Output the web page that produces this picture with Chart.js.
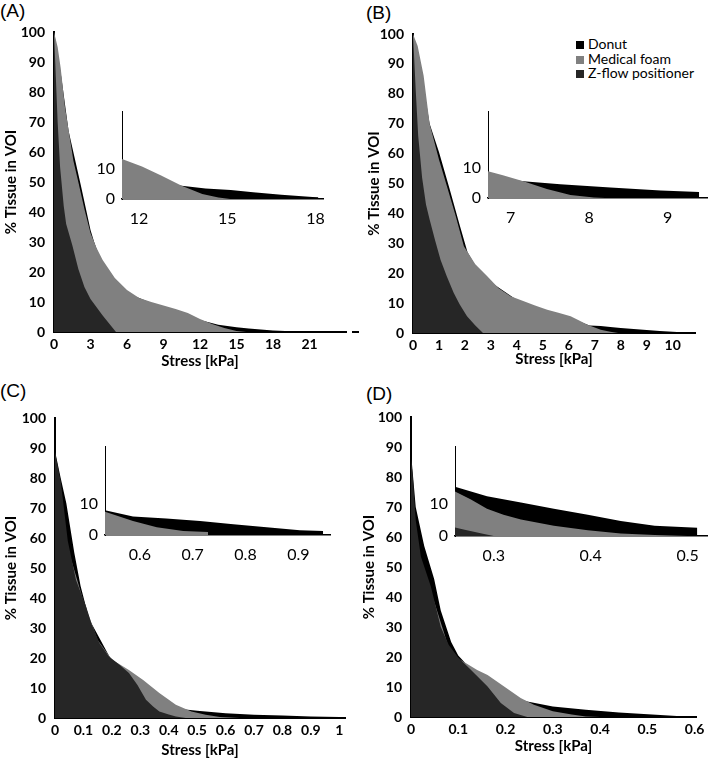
<!DOCTYPE html>
<html>
<head>
<meta charset="utf-8">
<script src="https://cdn.jsdelivr.net/npm/chart.js@4.4.0/dist/chart.umd.min.js"></script>
<style>
  body { margin: 0; background: #fff; }
  #fig { position: relative; width: 709px; height: 762px; overflow: hidden; background: #fff; }
  #fig canvas { position: absolute; }
  .panel { position: absolute; font-family: 'Liberation Sans', Arial, sans-serif; font-size: 19px; color: #000; line-height: 1; }
  .legend { position: absolute; left: 576px; top: 37px; font-family: Lato, sans-serif; font-size: 14px; color: #000; }
  .legend div { height: 14.5px; line-height: 14.5px; white-space: nowrap; }
  .legend span { display: inline-block; width: 8px; height: 8px; margin-right: 4px; vertical-align: 0px; }
  .dash { position: absolute; left: 352px; top: 331px; width: 7px; height: 2px; background: #000; }
</style>
</head>
<body>
<div id="fig">
  <div class="panel" style="left:0px;top:1px;">(A)</div>
  <div class="panel" style="left:366px;top:3px;">(B)</div>
  <div class="panel" style="left:0px;top:381px;">(C)</div>
  <div class="panel" style="left:366px;top:384px;">(D)</div>
  <div class="dash"></div>
  <div class="legend" id="legendB"></div>
</div>
<script>
// Series
const seriesNames = ['Donut', 'Medical foam', 'Z-flow positioner'];
const seriesColors = ['#000000', '#808080', '#262626'];

// Tick labels
const ticksA = [0, 3, 6, 9, 12, 15, 18, 21];
const ticksB = [0, 1, 2, 3, 4, 5, 6, 7, 8, 9, 10];
const ticksC = [0, 0.1, 0.2, 0.3, 0.4, 0.5, 0.6, 0.7, 0.8, 0.9, 1];
const ticksD = [0, 0.1, 0.2, 0.3, 0.4, 0.5, 0.6];
const ticksPct = [0, 10, 20, 30, 40, 50, 60, 70, 80, 90, 100];
const ticksInsetA = [12, 15, 18];
const ticksInsetB = [7, 8, 9];
const ticksInsetC = [0.6, 0.7, 0.8, 0.9];
const ticksInsetD = [0.3, 0.4, 0.5];
const ticksInsetPct = [0, 10];

// (A) main
const stressA_donut = [0, 0.6, 1.2, 2.2, 3, 3.3, 4, 6, 9, 12, 13.5, 15, 16, 17, 18, 19, 20, 21, 22, 24];
const pctA_donut = [100, 85, 67, 49, 34, 30, 22, 13, 8, 4, 2.4, 1.6, 1.2, 0.8, 0.5, 0.3, 0.15, 0.1, 0.05, 0];
const stressA_foam = [0, 0.3, 0.55, 0.9, 1.25, 1.6, 2, 2.5, 3, 3.5, 4, 5, 6, 7, 8, 9, 10, 11, 12, 13, 14, 15, 15.8];
const pctA_foam = [100, 95, 88, 75, 66, 57, 50, 41, 33, 28, 24, 18, 14, 11.3, 10, 8.8, 7.7, 6.3, 4.3, 2.7, 1.3, 0.3, 0];
const stressA_zflow = [0, 0.15, 0.3, 0.5, 0.8, 1, 1.5, 2, 2.5, 3, 4, 5.1];
const pctA_zflow = [100, 85, 70, 55, 42, 36, 29, 21, 15, 11, 5.5, 0];

// (A) inset
const stressIA_donut = [11.42, 13.45, 14.26, 15.12, 15.88, 16.84, 17.9, 18.1];
const pctIA_donut = [9, 4.4, 3.5, 3.0, 2.2, 1.4, 0.7, 0.6];
const stressIA_foam = [11.42, 12.1, 12.75, 13.45, 14.15, 14.7, 15.1];
const pctIA_foam = [13.3, 10.8, 7.8, 4.4, 1.7, 0.5, 0];

// (B) main
const stressB_donut = [0, 0.3, 0.64, 1.0, 1.4, 1.8, 2.1, 2.5, 3, 4, 5, 6, 6.8, 7.23, 7.6, 8, 8.5, 9, 9.5, 10, 10.5, 10.8];
const pctB_donut = [100, 88, 70, 60.5, 48.5, 36, 27, 21, 17, 11, 7.3, 5.2, 2.5, 2.3, 2.0, 1.7, 1.3, 1.0, 0.7, 0.4, 0.2, 0.05];
const stressB_foam = [0, 0.18, 0.41, 0.64, 1.0, 1.31, 1.65, 1.96, 2.4, 2.86, 3.3, 3.76, 4.27, 4.7, 5.17, 5.6, 6.07, 6.4, 6.72, 7.23, 7.6, 7.9];
const pctB_foam = [100, 96, 86, 70, 58, 49, 39, 29, 23, 19, 15, 12.3, 10.6, 9.2, 7.8, 6.8, 5.6, 4.2, 2.8, 1.1, 0.4, 0];
const stressB_zflow = [0, 0.1, 0.2, 0.35, 0.5, 0.64, 0.85, 1.06, 1.3, 1.57, 1.8, 2.08, 2.4, 2.7];
const pctB_zflow = [100, 82, 66, 52, 43, 38, 31, 24.5, 19, 13.4, 9.5, 5.6, 2.5, 0];

// (B) inset
const stressIB_donut = [6.71, 7.16, 7.63, 8.27, 8.91, 9.4];
const pctIB_donut = [7, 5.5, 4.5, 3.5, 2.5, 2.0];
const stressIB_foam = [6.71, 6.9, 7.16, 7.46, 7.76, 8.06, 8.2];
const pctIB_foam = [8.8, 7.5, 5.5, 3.0, 1.0, 0.2, 0];

// (C) main
const stressC_donut = [0, 0.02, 0.04, 0.068, 0.09, 0.12, 0.2, 0.3, 0.4, 0.45, 0.5, 0.6, 0.7, 0.8, 0.9, 1.0, 1.017];
const pctC_donut = [89, 80, 71.5, 55, 44, 33, 19, 9, 3.2, 2.9, 2.4, 1.6, 1.1, 0.8, 0.5, 0.3, 0.2];
const stressC_foam = [0, 0.05, 0.1, 0.15, 0.2, 0.26, 0.31, 0.367, 0.425, 0.48, 0.53, 0.58, 0.65];
const pctC_foam = [75, 55, 39, 26, 19.5, 16, 12.7, 8.3, 4.4, 2.2, 1.1, 0.3, 0];
const stressC_zflow = [0, 0.02, 0.045, 0.074, 0.11, 0.13, 0.156, 0.19, 0.23, 0.26, 0.29, 0.32, 0.345, 0.367, 0.4, 0.425, 0.46];
const pctC_zflow = [88.7, 79, 59, 46, 37, 31, 25, 20.5, 17.5, 15, 11, 6.1, 3.8, 2.2, 1.2, 0.5, 0];

// (C) inset
const stressIC_donut = [0.534, 0.587, 0.65, 0.714, 0.777, 0.84, 0.903, 0.947];
const pctIC_donut = [8, 6, 5.3, 4.5, 3.5, 2.5, 1.5, 1.3];
const stressIC_foam = [0.534, 0.587, 0.632, 0.682, 0.729];
const pctIC_foam = [7.5, 4.5, 2.5, 1.3, 1.0];

// (D) main
const stressD_donut = [0, 0.01, 0.028, 0.049, 0.063, 0.085, 0.1, 0.15, 0.2, 0.246, 0.3, 0.37, 0.44, 0.51, 0.58, 0.6];
const pctD_donut = [88, 70, 57, 46, 35.5, 25, 20.5, 12, 7.5, 5.2, 3.5, 2.4, 1.5, 0.8, 0.2, 0.1];
const stressD_foam = [0, 0.02, 0.05, 0.08, 0.1, 0.14, 0.162, 0.197, 0.232, 0.26, 0.3, 0.34, 0.37, 0.4];
const pctD_foam = [70, 52, 38, 23, 19.5, 15.7, 14, 10.2, 6.3, 4.1, 1.9, 0.8, 0.2, 0];
const stressD_zflow = [0, 0.0035, 0.01, 0.021, 0.042, 0.063, 0.08, 0.099, 0.127, 0.162, 0.19, 0.218, 0.246];
const pctD_zflow = [86, 81, 65.6, 53.4, 43.5, 30, 24, 20, 15.7, 10.2, 4.7, 1.3, 0];

// (D) inset
const stressID_donut = [0.26, 0.293, 0.328, 0.362, 0.397, 0.431, 0.466, 0.51];
const pctID_donut = [15.5, 12.5, 10.6, 8.6, 6.7, 4.7, 3.2, 2.6];
const stressID_foam = [0.26, 0.276, 0.293, 0.31, 0.328, 0.362, 0.397, 0.431, 0.466, 0.5];
const pctID_foam = [14, 11.6, 8.6, 6.7, 5.2, 3.2, 1.8, 0.8, 0.3, 0];
const stressID_zflow = [0.26, 0.27, 0.29, 0.3];
const pctID_zflow = [2.7, 2, 0.6, 0];

const fig = document.getElementById('fig');

const pts = (xs, ys) => xs.map((x, i) => ({ x, y: ys[i] }));

// series list is [donut, foam, zflow]; null means not drawn.
// Z-flow is painted on top, donut at the back.
const buildSets = (list) => list
  .map((s, i) => s && {
    label: seriesNames[i],
    data: pts(s[0], s[1]),
    backgroundColor: seriesColors[i],
    borderWidth: 0,
    pointRadius: 0,
    tension: 0,
    fill: 'origin',
    order: 3 - i
  })
  .filter(Boolean);

const makeCanvas = (box) => {
  const c = document.createElement('canvas');
  c.width = box.w;
  c.height = box.h;
  c.style.left = box.x + 'px';
  c.style.top = box.y + 'px';
  c.style.width = box.w + 'px';
  c.style.height = box.h + 'px';
  fig.appendChild(c);
  return c;
};

/**
 * Draw one area chart so its plot area lands on `area` (page pixels)
 */
const drawChart = (box, area, xRange, yMax, xTicks, yTicks, sets, inset) => {
  const canvas = makeCanvas(box);
  const tickFont = inset
    ? { family: 'Lato', size: 16 }
    : { family: 'Lato', size: 14, weight: 'bold' };
  const titleFont = { family: 'Lato', size: 15, weight: 'bold' };

  new Chart(canvas, {
    type: 'line',
    data: { datasets: sets },
    options: {
      responsive: false,
      animation: false,
      events: [],
      layout: {
        padding: { top: area.top - box.y, right: box.x + box.w - area.right, left: 0, bottom: 0 }
      },
      plugins: {
        legend: { display: false },
        tooltip: { enabled: false }
      },
      scales: {
        x: {
          type: 'linear',
          min: xRange[0],
          max: xRange[1],
          afterBuildTicks: s => { s.ticks = xTicks.map(v => ({ value: v })); },
          afterFit: s => { s.height = box.y + box.h - area.bottom; },
          grid: { display: true, drawOnChartArea: false, drawTicks: false },
          border: { color: '#000', width: inset ? 1.5 : 2 },
          ticks: {
            color: '#000',
            font: tickFont,
            padding: inset ? 10 : 4,
            maxRotation: 0,
            autoSkip: false,
            callback: v => String(v)
          },
          title: inset ? { display: false } : {
            display: true,
            text: 'Stress [kPa]',
            color: '#000',
            font: titleFont,
            padding: { top: 0, bottom: 2 }
          }
        },
        y: {
          type: 'linear',
          min: 0,
          max: yMax,
          afterBuildTicks: s => { s.ticks = yTicks.map(v => ({ value: v })); },
          afterFit: s => { s.width = area.left - box.x; },
          grid: { display: true, drawOnChartArea: false, drawTicks: false },
          border: { color: '#000', width: inset ? 1 : 2 },
          ticks: {
            color: '#000',
            font: tickFont,
            padding: inset ? 7 : 9,
            callback: v => String(v)
          },
          title: inset ? { display: false } : {
            display: true,
            text: '% Tissue in VOI',
            color: '#000',
            font: titleFont,
            padding: { top: 2, bottom: 0 }
          }
        }
      }
    }
  });
};

// Main panels
drawChart({ x: 0, y: 10, w: 354, h: 362 }, { left: 54, top: 32, right: 346, bottom: 332 },
  [0, 24], 100, ticksA, ticksPct,
  buildSets([[stressA_donut, pctA_donut], [stressA_foam, pctA_foam], [stressA_zflow, pctA_zflow]]), false);

drawChart({ x: 363, y: 10, w: 346, h: 360 }, { left: 413, top: 34, right: 695, bottom: 333 },
  [0, 10.86], 100, ticksB, ticksPct,
  buildSets([[stressB_donut, pctB_donut], [stressB_foam, pctB_foam], [stressB_zflow, pctB_zflow]]), false);

drawChart({ x: 0, y: 395, w: 354, h: 366 }, { left: 55, top: 418, right: 345, bottom: 718 },
  [0, 1.02], 100, ticksC, ticksPct,
  buildSets([[stressC_donut, pctC_donut], [stressC_foam, pctC_foam], [stressC_zflow, pctC_zflow]]), false);

drawChart({ x: 358, y: 395, w: 351, h: 362 }, { left: 411, top: 417, right: 696, bottom: 717 },
  [0, 0.603], 100, ticksD, ticksPct,
  buildSets([[stressD_donut, pctD_donut], [stressD_foam, pctD_foam], [stressD_zflow, pctD_zflow]]), false);

// Insets
drawChart({ x: 90, y: 95, w: 245, h: 135 }, { left: 122, top: 103, right: 328, bottom: 199 },
  [11.42, 18.26], 29, ticksInsetA, ticksInsetPct,
  buildSets([[stressIA_donut, pctIA_donut], [stressIA_foam, pctIA_foam], null]), true);

drawChart({ x: 455, y: 95, w: 254, h: 140 }, { left: 488, top: 103, right: 707, bottom: 198 },
  [6.71, 9.5], 28.5, ticksInsetB, ticksInsetPct,
  buildSets([[stressIB_donut, pctIB_donut], [stressIB_foam, pctIB_foam], null]), true);

drawChart({ x: 70, y: 430, w: 270, h: 140 }, { left: 105, top: 440, right: 330, bottom: 535 },
  [0.534, 0.96], 28.5, ticksInsetC, ticksInsetPct,
  buildSets([[stressIC_donut, pctIC_donut], [stressIC_foam, pctIC_foam], null]), true);

drawChart({ x: 420, y: 430, w: 289, h: 140 }, { left: 455, top: 440, right: 707, bottom: 536 },
  [0.26, 0.52], 28.2, ticksInsetD, ticksInsetPct,
  buildSets([[stressID_donut, pctID_donut], [stressID_foam, pctID_foam], [stressID_zflow, pctID_zflow]]), true);

// Legend for panel B
const legendB = document.getElementById('legendB');
seriesNames.forEach((name, i) => {
  const row = document.createElement('div');
  row.innerHTML = `<span style="background:${seriesColors[i]}"></span>${name}`;
  legendB.appendChild(row);
});
</script>
</body>
</html>
